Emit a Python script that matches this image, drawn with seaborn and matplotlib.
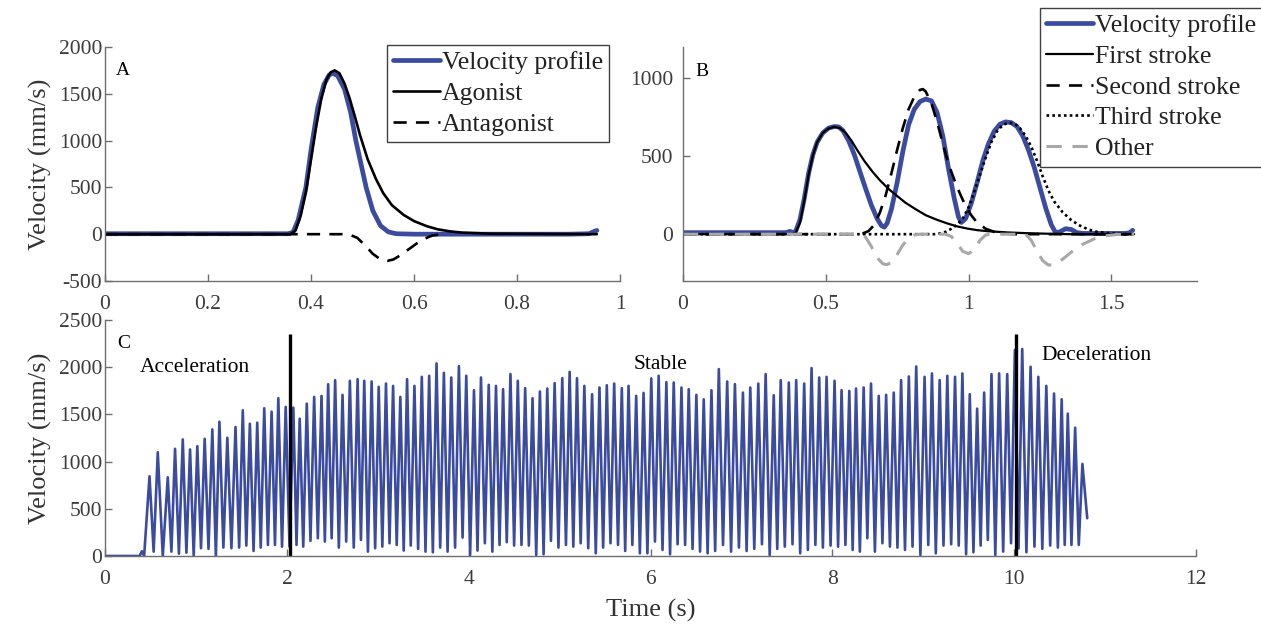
import seaborn as sns
import matplotlib.pyplot as plt

# ---------------- Panel A: one movement, agonist / antagonist strokes ----------------
a_vel_t = [0, 0.355, 0.365, 0.375, 0.39, 0.40, 0.413, 0.425, 0.435, 0.443, 0.452, 0.465,
           0.477, 0.487, 0.497, 0.507, 0.52, 0.535, 0.55, 0.565, 0.6, 0.9, 0.94, 0.95, 0.955]
a_vel_v = [5, 5, 20, 150, 500, 900, 1350, 1600, 1700, 1720, 1690, 1550,
           1300, 1000, 750, 500, 250, 90, 25, 5, 0, 0, 5, 30, 40]

a_ago_t = [0, 0.36, 0.37, 0.38, 0.39, 0.40, 0.41, 0.42, 0.43, 0.438, 0.446, 0.455, 0.465,
           0.475, 0.485, 0.495, 0.51, 0.526, 0.54, 0.557, 0.58, 0.60, 0.625, 0.646, 0.67,
           0.693, 0.75, 0.955]
a_ago_v = [0, 0, 40, 200, 450, 800, 1150, 1450, 1650, 1730, 1750, 1720, 1610,
           1450, 1260, 1060, 800, 590, 440, 310, 205, 140, 85, 52, 30,
           17, 5, 0]

a_ant_t = [0, 0.46, 0.475, 0.49, 0.505, 0.52, 0.535, 0.548, 0.56, 0.575, 0.59, 0.605,
           0.62, 0.635, 0.65, 0.66]
a_ant_v = [0, 0, -5, -40, -120, -210, -270, -285, -270, -220, -160, -100,
           -50, -15, -3, 0]

# ---------------- Panel B: three strokes ----------------
b_vel_t = [0, 0.36, 0.375, 0.385, 0.395, 0.41, 0.425, 0.44, 0.455, 0.47, 0.49, 0.51, 0.53,
           0.545, 0.56, 0.58, 0.60, 0.62, 0.64, 0.66, 0.68, 0.695, 0.705, 0.715, 0.73, 0.75,
           0.77, 0.79, 0.81, 0.83, 0.85, 0.87, 0.89, 0.91, 0.93, 0.95, 0.965, 0.975, 0.99,
           1.01, 1.03, 1.05, 1.07, 1.09, 1.11, 1.13, 1.15, 1.17, 1.19, 1.21, 1.23, 1.25,
           1.27, 1.29, 1.305, 1.32, 1.34, 1.36, 1.38, 1.40, 1.55, 1.565, 1.575]
b_vel_v = [10, 10, 18, 10, 20, 95, 230, 390, 510, 590, 650, 680, 690,
           688, 665, 600, 510, 400, 290, 185, 100, 55, 45, 70, 160, 330,
           530, 700, 800, 850, 866, 855, 780, 630, 420, 230, 110, 75, 100,
           200, 330, 470, 580, 660, 705, 720, 715, 690, 630, 540, 430, 300,
           170, 60, 10, 15, 35, 30, 10, 5, 5, 10, 25]

b_s1_t = [0, 0.38, 0.395, 0.41, 0.425, 0.44, 0.455, 0.47, 0.49, 0.51, 0.53, 0.55, 0.57,
          0.59, 0.61, 0.635, 0.664, 0.69, 0.722, 0.75, 0.779, 0.815, 0.851, 0.89, 0.924,
          0.96, 0.996, 1.03, 1.068, 1.14, 1.212, 1.3, 1.356, 1.58]
b_s1_v = [0, 0, 10, 75, 215, 380, 505, 590, 650, 678, 688, 680, 650,
          600, 540, 470, 400, 345, 287, 245, 202, 160, 121, 92, 70,
          50, 36, 26, 19, 11, 6, 2, 0, 0]

b_s2_t = [0, 0.60, 0.63, 0.65, 0.67, 0.69, 0.71, 0.73, 0.75, 0.77, 0.79, 0.81, 0.83, 0.84,
          0.85, 0.87, 0.89, 0.91, 0.93, 0.95, 0.97, 0.99, 1.01, 1.03, 1.06, 1.09, 1.12,
          1.16, 1.58]
b_s2_v = [0, 0, 5, 20, 60, 140, 250, 390, 540, 680, 800, 880, 925, 930,
          915, 840, 720, 580, 450, 350, 260, 180, 120, 75, 35, 15, 5,
          0, 0]

b_s3_t = [0, 0.88, 0.90, 0.92, 0.94, 0.96, 0.98, 1.00, 1.02, 1.04, 1.06, 1.08, 1.10, 1.12,
          1.14, 1.16, 1.18, 1.20, 1.22, 1.24, 1.26, 1.28, 1.30, 1.33, 1.36, 1.39, 1.42,
          1.45, 1.50, 1.55, 1.58]
b_s3_v = [0, 0, 5, 15, 35, 60, 100, 170, 270, 380, 490, 590, 660, 700,
          715, 710, 680, 630, 560, 470, 370, 280, 210, 140, 90, 55, 30,
          15, 5, 0, 0]

b_oth_t = [0, 0.62, 0.64, 0.66, 0.68, 0.70, 0.715, 0.73, 0.75, 0.77, 0.79, 0.81, 0.83,
           0.92, 0.94, 0.96, 0.98, 1.0, 1.02, 1.04, 1.06, 1.08, 1.2, 1.22, 1.24, 1.26,
           1.28, 1.30, 1.33, 1.36, 1.40, 1.44, 1.48, 1.52, 1.58]
b_oth_v = [0, 0, -20, -80, -150, -190, -195, -180, -130, -70, -25, -5, 0,
           0, -15, -60, -110, -125, -100, -40, -5, 0, 0, -40, -110, -170,
           -198, -195, -160, -115, -65, -30, -10, -2, 0]

# ---------------- Panel C: long repetitive trial ----------------
c_start_t = [0, 0.38, 0.405, 0.43]
c_start_v = [0, 0, 50, 0]
c_peak_t = [0.489, 0.58, 0.69, 0.77, 0.855, 0.935, 1.015, 1.096, 1.18, 1.258,
            1.345, 1.435, 1.515, 1.593, 1.674, 1.751, 1.832, 1.906, 1.987, 2.071,
            2.141, 2.219, 2.30, 2.381, 2.454, 2.531, 2.612, 2.693, 2.778, 2.851,
            2.932, 3.01, 3.09, 3.168, 3.248, 3.322, 3.403, 3.484, 3.565, 3.646,
            3.727, 3.808, 3.892, 3.973, 4.058, 4.135, 4.22, 4.30, 4.378, 4.459,
            4.54, 4.621, 4.702, 4.783, 4.864, 4.945, 5.029, 5.11, 5.191, 5.272,
            5.357, 5.438, 5.519, 5.60, 5.684, 5.758, 5.842, 5.923, 6.008, 6.089,
            6.174, 6.255, 6.34, 6.42, 6.504, 6.585, 6.67, 6.751, 6.843, 6.928,
            7.016, 7.097, 7.185, 7.266, 7.355, 7.432, 7.521, 7.602, 7.69, 7.771,
            7.855, 7.936, 8.024, 8.101, 8.186, 8.26, 8.344, 8.425, 8.51, 8.591,
            8.675, 8.756, 8.841, 8.922, 9.014, 9.095, 9.18, 9.264, 9.349, 9.43,
            9.511, 9.592, 9.669, 9.75, 9.834, 9.923, 10.007, 10.088, 10.18, 10.265,
            10.353, 10.438, 10.522, 10.589, 10.670, 10.75]
c_peak_v = [845, 1100, 834, 1136, 1235, 1129, 1164, 1242, 1342, 1423,
            1253, 1367, 1544, 1402, 1413, 1566, 1530, 1672, 1580, 1573,
            1455, 1615, 1686, 1697, 1821, 1864, 1708, 1857, 1874, 1857,
            1850, 1793, 1828, 1803, 1686, 1874, 1803, 1899, 1910, 2041,
            1942, 1892, 2013, 1910, 1757, 1892, 1814, 1803, 1768, 1928,
            1857, 1779, 1672, 1743, 1775, 1832, 1885, 1952, 1885, 1803,
            1715, 1786, 1810, 1828, 1779, 1803, 1697, 1729, 1882, 1910,
            1842, 1839, 1786, 1768, 1708, 1661, 1757, 1981, 1850, 1821,
            1732, 1786, 1828, 1928, 1704, 1864, 1839, 1864, 1828, 1992,
            1892, 1899, 1857, 1757, 1750, 1775, 1786, 1828, 1697, 1708,
            1732, 1864, 1903, 2009, 1899, 1935, 1864, 1910, 1899, 1935,
            1715, 1562, 1732, 1928, 1935, 1928, 2183, 2194, 2006, 1899,
            1803, 1722, 1661, 1509, 1360, 976]
c_trough_v = [46, 0, 46, 25, 35, 5, 82, 75, 0, 89,
              82, 89, 110, 53, 89, 117, 117, 99, 99, 117, 99, 160, 188, 153, 188, 89, 153,
              89, 170, 46, 82, 99, 135, 117, 57, 110, 75, 46, 39, 89, 46, 89, 195, 10, 57,
              135, 46, 117, 146, 110, 117, 110, 10, 18, 160, 89, 117, 99, 135, 82, 28, 89,
              135, 117, 53, 117, 28, 28, 153, 64, 18, 124, 117, 75, 46, 28, 53, 117,
              46, 89, 53, 75, 124, 10, 75, 99, 124, 28, 64, 117, 89, 110, 99, 117, 64,
              46, 188, 46, 135, 99, 89, 64, 99, 10, 117, 28, 110, 124, 110, 18, 39,
              110, 170, 10, 46, 135, 80, 39, 99, 75, 110, 89, 117, 117, 117]
c_end_t = [10.803]
c_end_v = [400]

phase_bounds = [2.03, 10.02]
phase_top = 2350
phase_names = ["Acceleration", "Stable", "Deceleration"]

BLUE = "#3B4BA0"
GREY_TXT = "#333333"
SPINE = "#6E6E6E"

sns.set_theme(style="ticks")
plt.rcParams["font.family"] = ["Liberation Serif", "DejaVu Serif"]
plt.rcParams["text.color"] = GREY_TXT
plt.rcParams["axes.labelcolor"] = GREY_TXT
plt.rcParams["axes.unicode_minus"] = False

fig = plt.figure(figsize=(12.61, 6.24), dpi=100)
axA = fig.add_axes([0.0833, 0.5497, 0.4084, 0.375])
axB = fig.add_axes([0.5416, 0.5497, 0.4076, 0.375])
axC = fig.add_axes([0.0833, 0.109, 0.8652, 0.378])

line_kw = dict(estimator=None, sort=False)

# Panel A
sns.lineplot(x=a_vel_t, y=a_vel_v, ax=axA, color=BLUE, lw=3.4, label="Velocity profile", **line_kw)
sns.lineplot(x=a_ago_t, y=a_ago_v, ax=axA, color="black", lw=1.9, label="Agonist", **line_kw)
sns.lineplot(x=a_ant_t, y=a_ant_v, ax=axA, color="black", lw=1.9, linestyle=(0, (5, 3.5)),
             label="Antagonist", **line_kw)
axA.set_xlim(0, 1)
axA.set_ylim(-500, 2000)
axA.set_xticks([0, 0.2, 0.4, 0.6, 0.8, 1])
axA.set_xticklabels(["0", "0.2", "0.4", "0.6", "0.8", "1"])
axA.set_yticks([-500, 0, 500, 1000, 1500, 2000])
axA.set_ylabel("Velocity (mm/s)", fontsize=19, labelpad=5)
axA.text(0.02, 1745, "A", fontsize=14, va="center", ha="left", color="black")

# Panel B
sns.lineplot(x=b_vel_t, y=b_vel_v, ax=axB, color=BLUE, lw=3.4, label="Velocity profile", **line_kw)
sns.lineplot(x=b_s1_t, y=b_s1_v, ax=axB, color="black", lw=1.6, label="First stroke", **line_kw)
sns.lineplot(x=b_s2_t, y=b_s2_v, ax=axB, color="black", lw=1.9, linestyle=(0, (5, 3.5)),
             label="Second stroke", **line_kw)
sns.lineplot(x=b_s3_t, y=b_s3_v, ax=axB, color="black", lw=1.9, linestyle=(0, (1, 1.2)),
             label="Third stroke", **line_kw)
sns.lineplot(x=b_oth_t, y=b_oth_v, ax=axB, color="#A8A8A8", lw=2.2, linestyle=(0, (5, 3.5)),
             label="Other", **line_kw)
axB.set_xlim(0, 1.8)
axB.set_ylim(-300, 1200)
axB.set_xticks([0, 0.5, 1, 1.5])
axB.set_xticklabels(["0", "0.5", "1", "1.5"])
axB.set_yticks([0, 500, 1000])
axB.set_ylabel("")
axB.text(0.043, 1040, "B", fontsize=14, va="center", ha="left", color="black")

# Panel C
c_t, c_v = list(c_start_t), list(c_start_v)
for i, (pt, pv) in enumerate(zip(c_peak_t, c_peak_v)):
    c_t.append(pt)
    c_v.append(pv)
    if i < len(c_trough_v):
        c_t.append((pt + c_peak_t[i + 1]) / 2)
        c_v.append(c_trough_v[i])
c_t += c_end_t
c_v += c_end_v
sns.lineplot(x=c_t, y=c_v, ax=axC, color=BLUE, lw=1.9, **line_kw)
axC.vlines(phase_bounds, 0, phase_top, color="black", lw=2.4)
axC.set_xlim(0, 12)
axC.set_ylim(0, 2500)
axC.set_xticks(range(0, 13, 2))
axC.set_yticks(range(0, 2501, 500))
axC.set_ylabel("Velocity (mm/s)", fontsize=19, labelpad=5)
axC.set_xlabel("Time (s)", fontsize=19, labelpad=7)
axC.text(0.13, 2255, "C", fontsize=14, va="center", ha="left", color="black")
for name, x, y in zip(phase_names, [0.386, 5.81, 10.3], [2000, 2025, 2130]):
    axC.text(x, y, name, fontsize=15.5, va="center", ha="left", color="black")

for ax, ypad in ((axA, 2), (axB, 7), (axC, 2)):
    sns.despine(ax=ax)
    for s in ("left", "bottom"):
        ax.spines[s].set_color(SPINE)
        ax.spines[s].set_linewidth(1.0)
    ax.tick_params(direction="in", length=5, width=1.0, color=SPINE,
                   labelsize=15.5, labelcolor="#3C3C3C")
    ax.tick_params(axis="x", pad=10)
    ax.tick_params(axis="y", pad=ypad)
    ax.set_facecolor("none")
    leg = ax.get_legend()
    if leg is not None:
        leg.remove()

leg_kw = dict(fontsize=18.5, frameon=True, fancybox=False, edgecolor="#404040",
              framealpha=1, borderpad=0.25, labelspacing=0.3, handlelength=1.8,
              handletextpad=0.08, borderaxespad=0, loc="upper left",
              bbox_transform=fig.transFigure)
la = axA.legend(bbox_to_anchor=(387 / 1261, 1 - 45 / 624), **leg_kw)
lb = axB.legend(bbox_to_anchor=(1040 / 1261, 1 - 8 / 624), **leg_kw)
for lg in (la, lb):
    lg.get_frame().set_linewidth(1.0)
    for t in lg.get_texts():
        t.set_color("#222222")

fig.savefig("out.png", dpi=100)
